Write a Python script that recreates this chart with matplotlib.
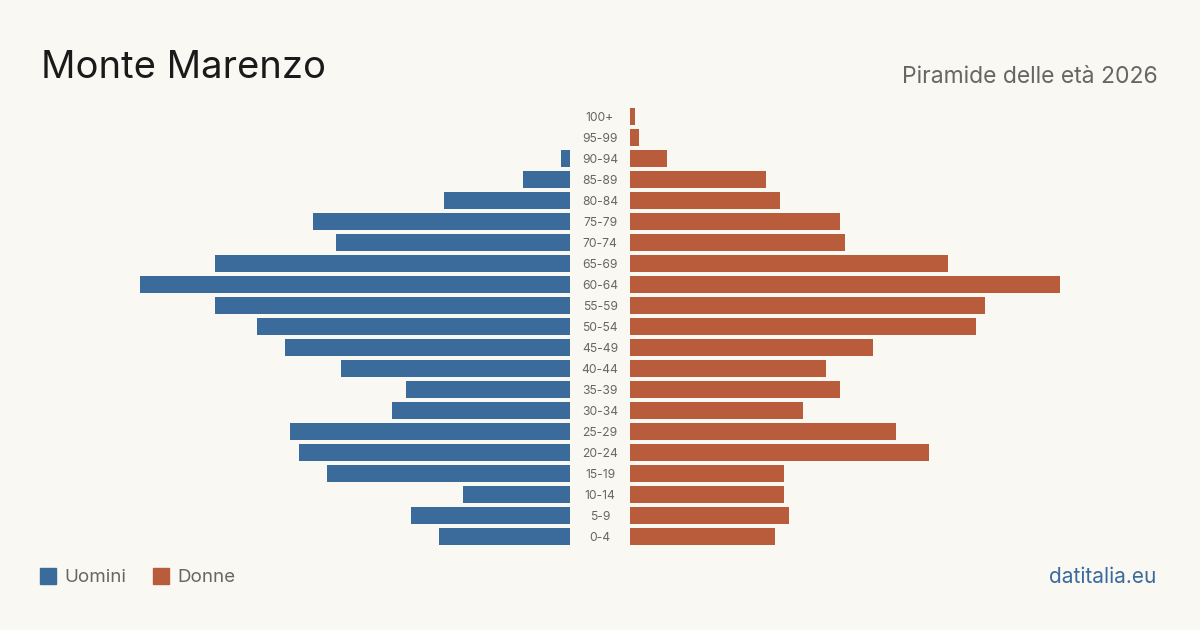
import matplotlib
matplotlib.use("Agg")
import matplotlib.pyplot as plt
import numpy as np

plt.rcParams["font.family"] = ["Inter", "DejaVu Sans"]

age_groups = ["100+", "95-99", "90-94", "85-89", "80-84", "75-79", "70-74", "65-69",
              "60-64", "55-59", "50-54", "45-49", "40-44", "35-39", "30-34", "25-29",
              "20-24", "15-19", "10-14", "5-9", "0-4"]
uomini = [0, 0, 2, 10, 27, 55, 50, 76, 92, 76, 67, 61, 49, 35, 38, 60, 58, 52, 23, 34, 28]
donne = [1, 2, 8, 29, 32, 45, 46, 68, 92, 76, 74, 52, 42, 45, 37, 57, 64, 33, 33, 34, 31]

BG = "#f9f8f3"
BLUE = "#3b6b9b"
ORANGE = "#b95c3c"
GREY = "#666666"

W, H = 1200, 630
fig = plt.figure(figsize=(W / 100, H / 100), dpi=100, facecolor=BG)

xmax = max(max(uomini), max(donne))
top, bottom = 105.5, 546.5
ax_m = fig.add_axes([140 / W, 1 - bottom / H, 430 / W, (bottom - top) / H])
ax_f = fig.add_axes([630 / W, 1 - bottom / H, 430 / W, (bottom - top) / H])

y = np.arange(len(age_groups))
for ax, vals, col in [(ax_m, uomini, BLUE), (ax_f, donne, ORANGE)]:
    ax.barh(y, vals, height=17 / 21, color=col)
    ax.set_ylim(len(age_groups) - 0.5, -0.5)
    ax.axis("off")
ax_m.set_xlim(xmax, 0)
ax_f.set_xlim(0, xmax)

# age labels in the gap between the two halves
for i, lab in enumerate(age_groups):
    ax_f.text(-30 / 430 * xmax, i + 0.08, lab, ha="center", va="center", fontsize=8.7, color=GREY)

fig.text(41 / W, 1 - 68 / H, "Monte Marenzo", fontsize=27.5, color="#1a1a1a", va="center", ha="left")
fig.text(1158 / W, 1 - 77 / H, "Piramide delle età 2026", fontsize=16.5, color=GREY, va="center", ha="right")

fig.patches.append(plt.Rectangle((40 / W, 1 - 584 / H), 16 / W, 16 / H, transform=fig.transFigure,
                                 color=BLUE, figure=fig))
fig.text(64 / W, 1 - 577 / H, "Uomini", fontsize=13.5, color=GREY, va="center", ha="left")
fig.patches.append(plt.Rectangle((153 / W, 1 - 584 / H), 16 / W, 16 / H, transform=fig.transFigure,
                                 color=ORANGE, figure=fig))
fig.text(177 / W, 1 - 577 / H, "Donne", fontsize=13.5, color=GREY, va="center", ha="left")
fig.text(1156 / W, 1 - 577 / H, "datitalia.eu", fontsize=15, color=BLUE, va="center", ha="right")

fig.savefig("out.png", dpi=100, facecolor=BG)
